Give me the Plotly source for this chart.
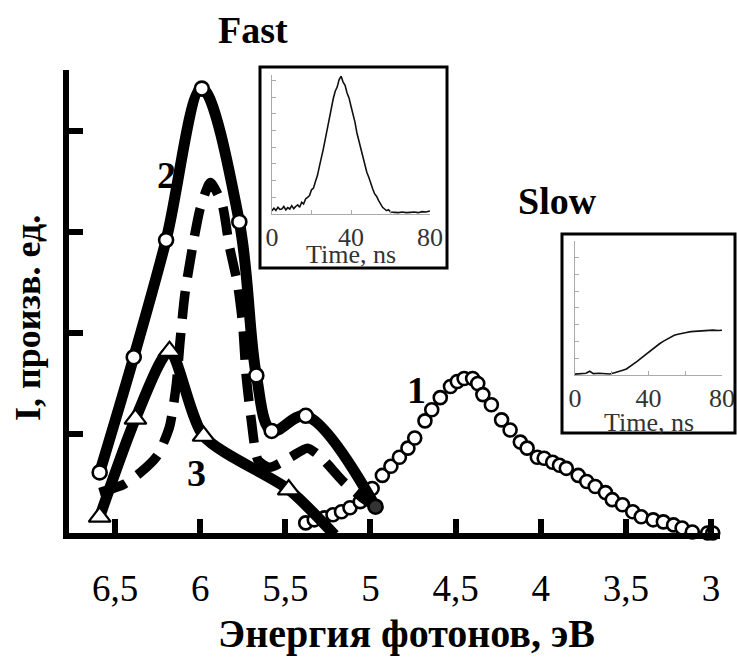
import plotly.graph_objects as go

W, H = 737, 657

# ---------------- data ----------------
energy_ticks = [6.5, 6.0, 5.5, 5.0, 4.5, 4.0, 3.5, 3.0]
energy_tick_text = ["6,5", "6", "5,5", "5", "4,5", "4", "3,5", "3"]
intensity_ticks = [1, 2, 3, 4]

# curve 1 (slow band, open circles)
curve1_E = [5.38, 5.33, 5.27, 5.22, 5.17, 5.12, 5.06, 4.99, 4.93, 4.88, 4.83, 4.78,
            4.74, 4.68, 4.64, 4.59, 4.53, 4.49, 4.45, 4.40, 4.37, 4.34, 4.29, 4.23,
            4.18, 4.12, 4.08, 4.02, 3.98, 3.93, 3.89, 3.85, 3.78, 3.73, 3.68, 3.62,
            3.58, 3.52, 3.46, 3.41, 3.34, 3.28, 3.22, 3.17, 3.11, 3.02, 2.99]
curve1_I = [0.12, 0.15, 0.17, 0.20, 0.23, 0.27, 0.33, 0.46, 0.59, 0.68, 0.77, 0.86,
            0.96, 1.13, 1.24, 1.36, 1.47, 1.52, 1.55, 1.55, 1.50, 1.39, 1.29, 1.14,
            1.04, 0.92, 0.86, 0.77, 0.76, 0.72, 0.69, 0.66, 0.59, 0.53, 0.48, 0.42,
            0.35, 0.30, 0.23, 0.18, 0.15, 0.13, 0.10, 0.07, 0.03, 0.02, 0.02]

# curve 2 (fast band, solid with circles)
curve2_E = [6.59, 6.39, 6.20, 5.99, 5.77, 5.67, 5.58, 5.38, 4.97]
curve2_I = [0.62, 1.76, 2.92, 4.42, 3.10, 1.58, 1.03, 1.18, 0.28]

# dashed curve (no markers)
dashed_E = [6.59, 6.45, 6.35, 6.25, 6.18, 6.14, 6.12, 6.09, 6.05, 6.00, 5.94, 5.87,
            5.83, 5.78, 5.75, 5.73, 5.70, 5.66, 5.59, 5.47, 5.37, 5.29, 5.16, 5.05, 4.97]
dashed_I = [0.42, 0.50, 0.62, 0.79, 1.07, 1.49, 1.88, 2.38, 2.80, 3.23, 3.49, 3.27,
            2.87, 2.48, 2.08, 1.58, 1.14, 0.74, 0.67, 0.77, 0.86, 0.77, 0.53, 0.37, 0.28]

# curve 3 (solid with triangles)
curve3_E = [6.59, 6.38, 6.18, 5.98, 5.48, 5.21]
curve3_I = [0.18, 1.15, 1.82, 0.98, 0.45, 0.00]

# inset "Fast": time trace
fast_t = [0, 1, 2, 3, 4, 5, 6, 7, 8, 9, 10, 11, 12, 13, 14, 15, 16, 17, 18, 19,
          20, 21, 22, 23, 24, 25, 26, 27, 28, 29, 30, 31, 32, 33, 34, 35, 36, 37,
          38, 39, 40, 41, 42, 43, 44, 45, 46, 47, 48, 49, 50, 51, 52, 53, 54, 55,
          56, 57, 58, 59, 60, 62, 64, 66, 68, 70, 72, 74, 76, 78, 80]
fast_a = [0.20, 0.35, 0.22, 0.40, 0.28, 0.30, 0.45, 0.25, 0.38, 0.30, 0.50, 0.32,
          0.45, 0.55, 0.40, 0.70, 0.60, 0.90, 1.00, 1.10, 1.45, 1.55, 1.95, 2.30,
          2.85, 3.30, 3.90, 4.50, 5.10, 5.80, 6.30, 6.90, 7.35, 7.60, 8.05, 8.25,
          7.90, 7.70, 7.25, 6.95, 6.45, 6.00, 5.50, 4.85, 4.35, 3.95, 3.40, 3.00,
          2.50, 2.20, 1.80, 1.50, 1.20, 1.05, 0.80, 0.55, 0.40, 0.30, 0.20, 0.25,
          0.12, 0.10, 0.08, 0.12, 0.08, 0.10, 0.12, 0.08, 0.14, 0.12, 0.18]

# inset "Slow": time trace
slow_t = [0, 3, 6, 8, 10, 13, 16, 19, 22, 24, 26, 28, 30, 32, 34, 36, 38, 40, 42,
          44, 46, 48, 50, 52, 54, 56, 58, 60, 63, 66, 69, 72, 75, 78, 80]
slow_a = [0.05, 0.08, 0.10, 0.22, 0.08, 0.10, 0.07, 0.06, 0.15, 0.20, 0.28, 0.36,
          0.50, 0.66, 0.82, 1.00, 1.18, 1.36, 1.55, 1.70, 1.86, 2.00, 2.12, 2.25,
          2.36, 2.42, 2.48, 2.52, 2.58, 2.61, 2.65, 2.68, 2.67, 2.65, 2.66]
inset_x_ticks = [0, 20, 40, 60, 80]
inset_x_text = ["0", "", "40", "", "80"]
inset_y_ticks = [1, 2, 3, 4, 5, 6, 7, 8]

# ---------------- layout helpers ----------------
def fx(p):
    return p / W

def fy(p):
    return 1 - p / H

def e_at(px):
    return 6.5 - (px - 115) / 170.3

def i_at(py):
    return (535 - py) / 101.0

SERIF = "Liberation Serif"

fig = go.Figure()

fig.add_trace(go.Scatter(
    x=curve1_E, y=curve1_I, mode="markers", cliponaxis=False,
    marker=dict(symbol="circle", size=13, color="white",
                line=dict(color="black", width=2.6)),
    xaxis="x", yaxis="y", showlegend=False))

fig.add_trace(go.Scatter(
    x=dashed_E, y=dashed_I, mode="lines", cliponaxis=False,
    line=dict(color="black", width=9.5, dash="28px,14px", shape="spline", smoothing=0.6),
    xaxis="x", yaxis="y", showlegend=False))

fig.add_trace(go.Scatter(
    x=curve3_E, y=curve3_I, mode="lines+markers", cliponaxis=False,
    line=dict(color="black", width=11, shape="spline", smoothing=0.7),
    marker=dict(symbol="triangle-up", size=19, color="white",
                line=dict(color="black", width=2.2)),
    xaxis="x", yaxis="y", showlegend=False))

fig.add_trace(go.Scatter(
    x=curve2_E, y=curve2_I, mode="lines+markers", cliponaxis=False,
    line=dict(color="black", width=11, shape="spline", smoothing=1.0),
    marker=dict(symbol="circle", size=14,
                color=["white"] * (len(curve2_E) - 1) + ["#333333"],
                line=dict(color="black", width=2.6)),
    xaxis="x", yaxis="y", showlegend=False))

fig.add_trace(go.Scatter(
    x=fast_t, y=fast_a, mode="lines", line=dict(color="#111111", width=1.6),
    xaxis="x2", yaxis="y2", showlegend=False))

fig.add_trace(go.Scatter(
    x=slow_t, y=slow_a, mode="lines", line=dict(color="#111111", width=1.6),
    xaxis="x3", yaxis="y3", showlegend=False))

main_left, main_right, main_top, main_bottom = 68.5, 720, 70, 533

inset_axis_common = dict(showgrid=False, zeroline=False, showline=True,
                         linecolor="#aaaaaa", linewidth=1, ticks="inside",
                         ticklen=4, tickcolor="#aaaaaa", tickwidth=1,
                         automargin=False)

fig.update_layout(
    width=W, height=H, autosize=False,
    margin=dict(l=0, r=0, t=0, b=0, pad=0),
    paper_bgcolor="white", plot_bgcolor="rgba(0,0,0,0)",
    font=dict(family=SERIF, color="black"),
    xaxis=dict(
        domain=[fx(main_left), fx(main_right)],
        range=[e_at(main_left), e_at(main_right)],
        tickvals=energy_ticks, ticktext=energy_tick_text,
        ticks="inside", ticklen=14, tickwidth=6, tickcolor="black",
        showline=True, linecolor="black", linewidth=6,
        showgrid=False, zeroline=False, automargin=False,
        tickfont=dict(family=SERIF, size=37, color="black"),
        ticklabelstandoff=18, anchor="y"),
    yaxis=dict(
        domain=[fy(main_bottom), fy(main_top)],
        range=[i_at(main_bottom), i_at(main_top)],
        tickvals=intensity_ticks, showticklabels=False,
        ticks="inside", ticklen=14, tickwidth=6, tickcolor="black",
        showline=True, linecolor="black", linewidth=6,
        showgrid=False, zeroline=False, automargin=False, anchor="x"),
    xaxis2=dict(domain=[fx(272), fx(430)], range=[0, 80], anchor="y2",
                tickvals=inset_x_ticks, ticktext=inset_x_text,
                tickfont=dict(family=SERIF, size=26, color="#333333"),
                **inset_axis_common),
    yaxis2=dict(domain=[fy(214), fy(214 - 8.3 * 16.7)], range=[0, 8.3], anchor="x2",
                tickvals=inset_y_ticks, showticklabels=False, **inset_axis_common),
    xaxis3=dict(domain=[fx(575), fx(722)], range=[0, 80], anchor="y3",
                tickvals=inset_x_ticks, ticktext=inset_x_text,
                tickfont=dict(family=SERIF, size=26, color="#333333"),
                **inset_axis_common),
    yaxis3=dict(domain=[fy(375), fy(375 - 8.0 * 16.8)], range=[0, 8.0], anchor="x3",
                tickvals=inset_y_ticks, showticklabels=False, **inset_axis_common),
)

# inset frames
for (x0, y0, x1, y1) in [(260, 67, 447, 268), (562, 234, 735, 433)]:
    fig.add_shape(type="rect", xref="paper", yref="paper",
                  x0=fx(x0), x1=fx(x1), y0=fy(y1), y1=fy(y0),
                  line=dict(color="black", width=3), fillcolor="rgba(0,0,0,0)")

def ann(text, x, y, size, bold=True, color="black", angle=0):
    fig.add_annotation(
        text=("<b>%s</b>" % text) if bold else text,
        xref="paper", yref="paper", x=fx(x), y=fy(y),
        xanchor="center", yanchor="middle", showarrow=False, textangle=angle,
        font=dict(family=SERIF, size=size, color=color))

ann("Fast", 253, 30, 38)
ann("Slow", 557, 201, 38)
ann("2", 166, 175, 38)
ann("3", 196, 473, 38)
ann("1", 416, 390, 38)
ann("Time, ns", 351, 254, 26, bold=False, color="#333333")
ann("Time, ns", 649, 422, 26, bold=False, color="#333333")
ann("Энергия фотонов, эВ", 406, 633, 40)
ann("I, произв. ед.", 28, 318, 36, angle=-90)

fig.write_html(
    "out.html",
    config={"displayModeBar": False},
    post_script="document.body.style.margin='0';document.body.style.overflow='hidden';")
